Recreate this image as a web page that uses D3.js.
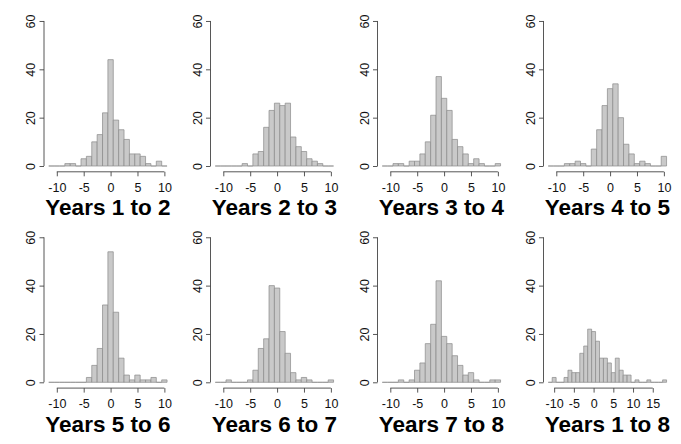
<!DOCTYPE html>
<html>
<head>
<meta charset="utf-8">
<script src="https://cdn.jsdelivr.net/npm/d3@7"></script>
<style>
  html, body { margin: 0; padding: 0; background: #fff; }
  svg { display: block; }
  text { font-family: "Liberation Sans", Arial, Helvetica, sans-serif; }
</style>
</head>
<body>
<svg id="chart" width="681" height="444"></svg>
<script>
// ---- data: counts per bin of width 1, bins centred on integers starting at -11 ----
const titles = ["Years 1 to 2", "Years 2 to 3", "Years 3 to 4", "Years 4 to 5",
                "Years 5 to 6", "Years 6 to 7", "Years 7 to 8", "Years 1 to 8"];
const binStart = -11.5;
const binWidth = 1;
const counts12 = [0,0,0,1,1,0,3,4,10,13,22,44,19,15,11,5,5,4,1,0,2,0];
const counts23 = [0,0,0,0,0,1,0,5,6,16,23,26,25,26,12,8,6,3,2,1,0,0];
const counts34 = [0,0,1,1,0,2,2,5,10,21,37,28,23,11,8,5,1,3,1,0,0,1];
const counts45 = [0,0,0,1,1,2,1,0,7,15,25,32,34,20,9,5,1,2,1,0,0,4];
const counts56 = [0,0,0,0,0,0,0,2,7,14,32,54,29,10,3,1,3,1,1,2,0,1];
const counts67 = [0,0,1,0,0,0,1,5,14,18,40,39,21,12,4,1,2,1,0,0,0,1];
const counts78 = [0,0,0,1,0,1,5,8,16,24,42,19,16,11,7,3,4,1,0,0,1,1];
const counts18 = [0,2,0,0,2,5,4,4,12,15,22,21,17,10,10,8,4,10,5,3,3,0,1,0,0,1,0,0,0,1];
const allCounts = [counts12, counts23, counts34, counts45, counts56, counts67, counts78, counts18];
const xTicksShort = [-10, -5, 0, 5, 10];
const xTicksLong = [-10, -5, 0, 5, 10, 15];
const yTicks = [0, 20, 40, 60];

// ---- layout ----
const svg = d3.select("#chart");
const colLeft = [44, 210.5, 377.5, 543.5];
const plotW = 127.8;
const rowY0 = [166, 382.3];   // pixel of count 0
const pxPerCount = 2.417;
const titleBase = [215.4, 431.7];

allCounts.forEach((counts, i) => {
  const col = i % 4, row = Math.floor(i / 4);
  const bins = counts.map((c, k) => ({x0: binStart + k * binWidth, x1: binStart + (k + 1) * binWidth, n: c}));
  const lo = bins[0].x0, hi = bins[bins.length - 1].x1;
  const pad = (hi - lo) * 0.04;
  const x = d3.scaleLinear().domain([lo - pad, hi + pad]).range([colLeft[col], colLeft[col] + plotW]);
  const y = d3.scaleLinear().domain([0, 60]).range([rowY0[row], rowY0[row] - 60 * pxPerCount]);
  const yPad = 60 * 0.04;
  const g = svg.append("g");

  // bars (paths so that empty bins still show a baseline)
  g.selectAll("path.bar").data(bins).join("path")
    .attr("class", "bar")
    .attr("d", d => `M${x(d.x0)},${y(0)}V${y(d.n)}H${x(d.x1)}V${y(0)}Z`)
    .attr("fill", "#c9c9c9")
    .attr("stroke", "#8a8a8a")
    .attr("stroke-width", 0.7);

  // x axis at bottom of plot region
  const xt = i === 7 ? xTicksLong : xTicksShort;
  const xAxis = d3.axisBottom(x).tickValues(xt).tickSize(4.5).tickSizeOuter(0).tickPadding(7);
  const gx = g.append("g").attr("transform", `translate(0,${y(-yPad)})`).call(xAxis);
  gx.select(".domain").attr("d", `M${x(xt[0])},0H${x(xt[xt.length - 1])}`);
  gx.selectAll(".domain, .tick line").attr("stroke", "#444").attr("stroke-width", 0.9);
  gx.selectAll("text").attr("font-size", 12.5).attr("fill", "#111")
    .text(d => d < 0 ? "-" + Math.abs(d) : d);

  // y axis at left of plot region
  const yAxis = d3.axisLeft(y).tickValues(yTicks).tickSize(4.5).tickSizeOuter(0);
  const gy = g.append("g").attr("transform", `translate(${x(lo - pad)},0)`).call(yAxis);
  gy.select(".domain").attr("d", `M0,${y(0)}V${y(60)}`);
  gy.selectAll(".domain, .tick line").attr("stroke", "#444").attr("stroke-width", 0.9);
  gy.selectAll(".tick text")
    .attr("font-size", 12.5).attr("fill", "#111")
    .attr("x", null).attr("dy", null)
    .attr("text-anchor", "middle")
    .attr("transform", "translate(-9,0) rotate(-90)");

  // title
  g.append("text")
    .attr("x", colLeft[col] + plotW / 2)
    .attr("y", titleBase[row])
    .attr("text-anchor", "middle")
    .attr("font-size", 22.5)
    .attr("font-weight", "bold")
    .attr("fill", "#000")
    .text(titles[i]);
});
</script>
</body>
</html>
